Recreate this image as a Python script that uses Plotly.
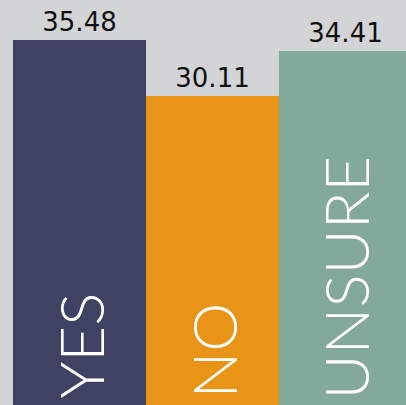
import plotly.graph_objects as go

# ---------------------------------------------------------------------------
# Data
# ---------------------------------------------------------------------------

answers = ["YES", "NO", "UNSURE"]
shares = [35.48, 30.11, 34.41]
colors = ["#3f4262", "#e89417", "#83a99c"]

positions = list(range(len(answers)))

fig = go.Figure(go.Bar(
    x=positions, y=shares,
    width=1.0,
    marker={"color": colors, "line": {"width": 0}},
    text=[f"{v:.2f}" for v in shares],
    textposition="outside",
    textfont={"family": "DejaVu Sans, sans-serif", "size": 26, "color": "#111111"},
    cliponaxis=False,
    hoverinfo="skip",
))

# category names written up the inside of each bar
for pos, label in zip(positions, answers):
    fig.add_annotation(
        x=pos, y=0, xref="x", yref="paper",
        text=label, showarrow=False, textangle=-90,
        xanchor="center", yanchor="bottom", yshift=4,
        font={"family": "Lato, DejaVu Sans, sans-serif", "size": 62,
              "color": "white", "weight": 300},
    )

fig.update_layout(
    width=406, height=405,
    margin={"l": 0, "r": 0, "t": 0, "b": 0},
    paper_bgcolor="#d3d4d6", plot_bgcolor="#d3d4d6",
    showlegend=False, bargap=0,
    xaxis={"range": [-0.598, 2.455], "visible": False, "fixedrange": True},
    yaxis={"range": [0.5, 39.3], "visible": False, "fixedrange": True},
)

fig.write_html(
    "out.html",
    config={"displayModeBar": False},
    post_script="document.body.style.margin='0';document.body.style.background='#d3d4d6';",
)
